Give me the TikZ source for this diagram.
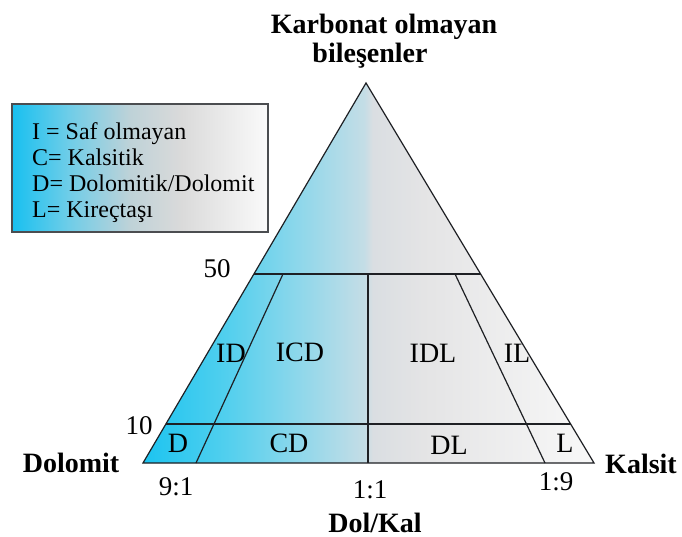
\documentclass[tikz,border=0pt]{standalone}
\usepackage{fontspec}
\setmainfont{Liberation Serif}
\definecolor{tA}{RGB}{28,196,240}
\definecolor{tB}{RGB}{80,207,238}
\definecolor{tC}{RGB}{140,215,235}
\definecolor{tD}{RGB}{196,221,230}
\definecolor{tE}{RGB}{218,222,226}
\definecolor{tF}{RGB}{228,228,229}
\definecolor{tG}{RGB}{248,248,248}
\pgfdeclarehorizontalshading{trishade}{100bp}{color(0bp)=(tA); color(25bp)=(tA); color(34bp)=(tB); color(42bp)=(tC); color(49.5bp)=(tD); color(50.5bp)=(tE); color(56bp)=(tF); color(75bp)=(tG); color(100bp)=(tG)}
\definecolor{bA}{RGB}{24,192,240}
\definecolor{bB}{RGB}{110,205,232}
\definecolor{bC}{RGB}{190,210,216}
\definecolor{bD}{RGB}{218,218,218}
\definecolor{bE}{RGB}{250,250,250}
\pgfdeclarehorizontalshading{boxshade}{100bp}{color(0bp)=(bA); color(25bp)=(bA); color(36bp)=(bB); color(48bp)=(bC); color(58bp)=(bD); color(75bp)=(bE); color(100bp)=(bE)}
\definecolor{linec}{RGB}{30,32,36}
\begin{document}
\begin{tikzpicture}[x=1pt,y=-1pt,
  edge/.style={draw=linec,line width=1.2pt},
  region/.style={font=\fontsize{28}{30}\selectfont,anchor=base,inner sep=0pt},
  num/.style={font=\fontsize{27}{29}\selectfont,anchor=base,inner sep=0pt},
  axislabel/.style={font=\fontsize{28}{30}\selectfont\bfseries,anchor=base,inner sep=0pt},
  legendtext/.style={font=\fontsize{24}{26}\selectfont,anchor=base west,inner sep=0pt}]
\useasboundingbox (0,0) rectangle (682,537);
% triangle corners
\coordinate (A) at (366,83);
\coordinate (B) at (143,463);
\coordinate (C) at (594,463);
% line end points
\coordinate (L50) at (254,274);
\coordinate (R50) at (481,274);
\coordinate (L10) at (166,424);
\coordinate (R10) at (571,424);
\coordinate (Mt) at (368,274);
\coordinate (Mb) at (368,463);
\coordinate (Dt) at (283,274);
\coordinate (Db) at (196,463);
\coordinate (Kt) at (455,274);
\coordinate (Kb) at (545,463);
% fill
\shade[shading=trishade] (A) -- (B) -- (C) -- cycle;
\draw[edge,line join=miter] (A) -- (B) -- (C) -- cycle;
\draw[edge] (L50) -- (R50);
\draw[edge] (L10) -- (R10);
\draw[edge] (Mt) -- (Mb);
\draw[edge] (Dt) -- (Db);
\draw[edge] (Kt) -- (Kb);
% legend box
\shade[shading=boxshade] (12,104) rectangle (268,232);
\draw[draw=linec!80,line width=1.5pt] (12,104) rectangle (268,232);
\node[legendtext] (lg1) at (32,140) {I = Saf olmayan};
\node[legendtext] (lg2) at (32,166) {C= Kalsitik};
\node[legendtext] (lg3) at (32,192) {D= Dolomitik/Dolomit};
\node[legendtext] (lg4) at (32,218) {L= Kireçtaşı};
% titles
\node[axislabel] (t1) at (384,34) {Karbonat olmayan};
\node[axislabel] (t2) at (370,63) {bileşenler};
\node[axislabel] (dolo) at (71,472) {Dolomit};
\node[axislabel] (kals) at (641,473) {Kalsit};
\node[axislabel] (dk) at (375,532) {Dol/Kal};
% numbers
\node[num] (n50) at (217,277) {50};
\node[num] (n10) at (139,434) {10};
\node[num] (r91) at (176,495) {9:1};
\node[num] (r11) at (370,498) {1:1};
\node[num] (r19) at (556,490) {1:9};
% regions
\node[region] (ID) at (231,362) {ID};
\node[region] (ICD) at (300,361) {ICD};
\node[region] (IDL) at (433,362) {IDL};
\node[region] (IL) at (517,362) {IL};
\node[region] (D) at (178,452) {D};
\node[region] (CD) at (289,452) {CD};
\node[region] (DL) at (449,454) {DL};
\node[region] (L) at (565,452) {L};
\end{tikzpicture}
\end{document}
